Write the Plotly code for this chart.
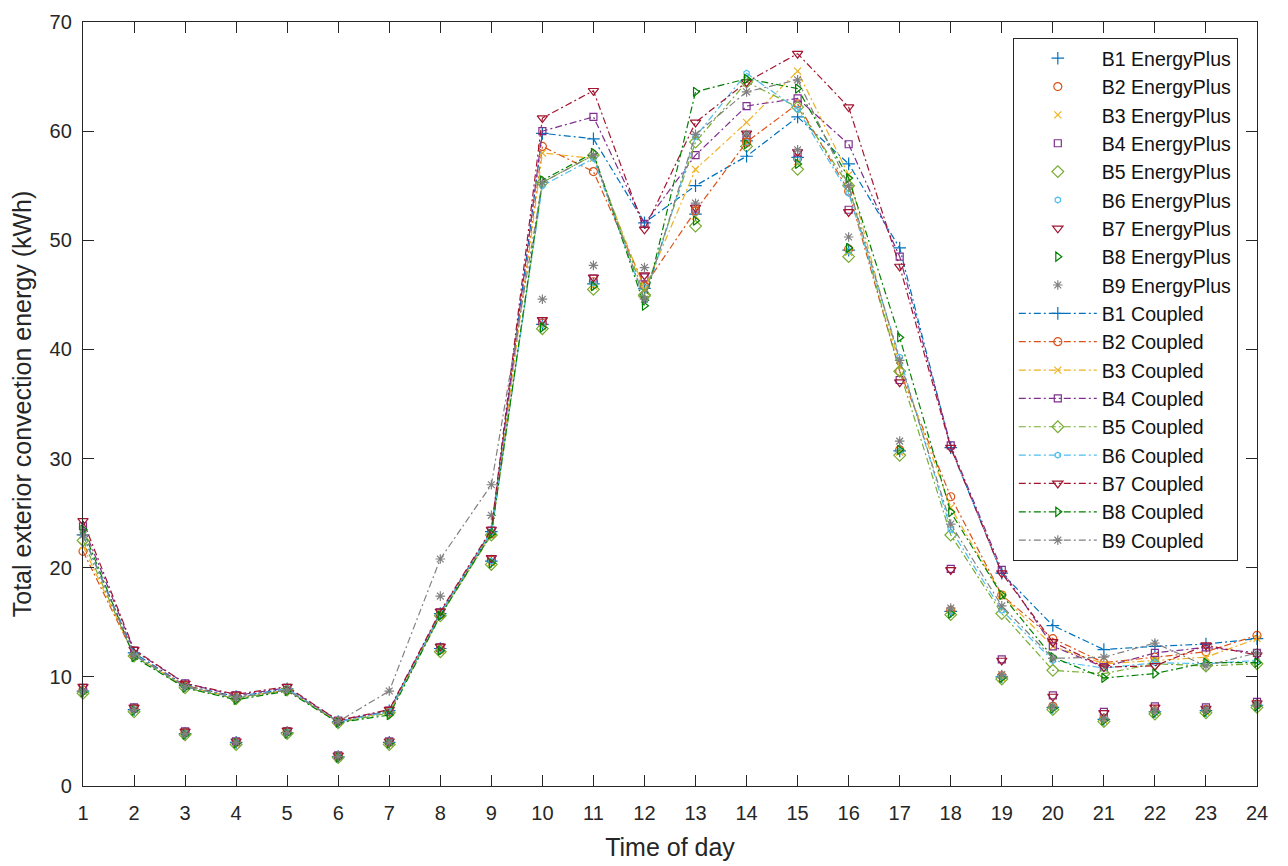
import plotly.graph_objects as go

hours = list(range(1, 25))
buildings = ["B1", "B2", "B3", "B4", "B5", "B6", "B7", "B8", "B9"]
colors = ["#0072BD", "#D95319", "#EDB120", "#7E2F8E", "#77AC30",
          "#4DBEEE", "#A2142F", "#008000", "#808080"]
symbols = ["cross-thin-open", "circle-open", "x-thin-open", "square-open",
           "diamond-open", "hexagon-open", "triangle-down-open",
           "triangle-right-open", "asterisk-open"]
sizes = [9, 8, 7, 7, 9, 6, 9, 8, 8]

# EnergyPlus results (markers only)
ep_b1 = [8.7, 7.0, 4.8, 4.0, 4.9, 2.7, 4.0, 12.6, 20.6, 42.3, 46.0, 45.6, 52.4, 59.1, 57.6, 49.1, 30.7, 16.0, 10.0, 7.2, 6.1, 6.8, 6.9, 7.4]
ep_b2 = [8.8, 7.1, 4.9, 4.0, 5.0, 2.7, 4.0, 12.5, 20.7, 42.4, 46.2, 45.9, 52.7, 59.2, 57.5, 49.2, 30.8, 16.1, 10.1, 7.3, 6.2, 6.9, 7.0, 7.5]
ep_b3 = [8.7, 7.0, 4.8, 3.9, 4.9, 2.6, 3.9, 12.4, 20.5, 42.1, 45.8, 45.4, 52.2, 58.9, 57.2, 48.9, 30.6, 15.9, 9.9, 7.1, 6.0, 6.7, 6.8, 7.3]
ep_b4 = [9.0, 7.2, 5.0, 4.1, 5.0, 2.8, 4.1, 12.7, 20.8, 42.6, 46.5, 46.6, 52.9, 59.6, 58.0, 52.8, 37.2, 19.9, 11.6, 8.3, 6.8, 7.3, 7.2, 7.7]
ep_b5 = [8.5, 6.8, 4.7, 3.8, 4.8, 2.6, 3.8, 12.3, 20.3, 41.9, 45.5, 44.9, 51.3, 58.6, 56.5, 48.5, 30.3, 15.7, 9.8, 7.0, 5.9, 6.6, 6.7, 7.2]
ep_b6 = [8.7, 7.0, 4.8, 4.0, 4.9, 2.7, 4.0, 12.5, 20.6, 42.3, 46.1, 45.7, 52.5, 59.0, 57.4, 49.0, 30.7, 16.0, 10.0, 7.2, 6.1, 6.8, 6.9, 7.4]
ep_b7 = [9.1, 7.2, 5.0, 4.1, 5.1, 2.8, 4.1, 12.8, 20.9, 42.7, 46.6, 46.8, 53.0, 59.8, 58.1, 52.6, 37.0, 19.8, 11.5, 8.2, 6.7, 7.2, 7.1, 7.6]
ep_b8 = [8.6, 6.9, 4.7, 3.9, 4.8, 2.6, 3.9, 12.4, 20.4, 42.0, 45.8, 44.5, 51.8, 58.8, 57.0, 49.3, 30.8, 15.8, 9.9, 7.1, 6.0, 6.7, 6.8, 7.3]
ep_b9 = [8.7, 7.0, 4.8, 4.0, 4.9, 2.7, 4.0, 17.4, 24.8, 44.6, 47.7, 47.5, 53.4, 59.7, 58.3, 50.3, 31.6, 16.3, 10.2, 7.3, 6.2, 6.9, 7.0, 7.5]

# Coupled results (dash-dot lines with markers)
cp_b1 = [23.0, 12.2, 9.2, 8.2, 8.9, 5.9, 6.9, 15.8, 23.3, 59.8, 59.3, 51.6, 55.0, 57.7, 61.3, 57.0, 49.3, 31.0, 19.5, 14.7, 12.5, 12.8, 13.0, 13.5]
cp_b2 = [21.5, 12.0, 9.2, 8.1, 8.8, 5.9, 6.8, 15.7, 23.1, 58.6, 56.3, 45.8, 52.7, 59.0, 62.5, 54.5, 38.0, 26.5, 17.5, 13.5, 11.3, 11.8, 12.3, 13.8]
cp_b3 = [22.0, 12.0, 9.1, 8.1, 8.8, 5.9, 6.8, 15.8, 23.2, 58.0, 57.5, 45.5, 56.5, 60.8, 65.5, 56.0, 38.5, 25.5, 17.5, 12.8, 11.2, 11.5, 11.8, 13.5]
cp_b4 = [23.8, 12.4, 9.4, 8.3, 9.0, 6.0, 6.9, 15.9, 23.4, 60.0, 61.3, 51.5, 57.8, 62.3, 63.0, 58.8, 48.5, 31.2, 19.8, 12.8, 10.9, 12.2, 12.7, 12.2]
cp_b5 = [22.5, 11.9, 9.0, 8.0, 8.8, 5.8, 6.7, 15.6, 23.0, 55.3, 57.8, 45.0, 59.0, 64.5, 62.2, 55.0, 38.0, 23.0, 15.8, 10.6, 10.3, 11.2, 11.0, 11.2]
cp_b6 = [23.0, 12.0, 9.1, 8.1, 8.9, 5.9, 6.8, 15.8, 23.3, 55.0, 57.5, 44.5, 59.5, 65.3, 62.0, 54.3, 39.3, 23.5, 16.1, 11.5, 10.8, 11.3, 11.2, 11.5]
cp_b7 = [24.3, 12.5, 9.4, 8.4, 9.1, 6.0, 7.0, 16.0, 23.5, 61.2, 63.7, 51.0, 60.8, 64.5, 67.1, 62.2, 47.6, 31.0, 19.5, 13.2, 10.9, 11.0, 12.9, 12.0]
cp_b8 = [23.5, 11.8, 9.0, 7.9, 8.7, 5.8, 6.5, 15.6, 23.1, 55.5, 58.0, 44.0, 63.6, 64.8, 63.9, 55.7, 41.1, 25.1, 17.5, 11.8, 9.9, 10.3, 11.3, 11.3]
cp_b9 = [23.0, 12.0, 9.1, 8.1, 8.8, 5.9, 8.7, 20.8, 27.6, 55.3, 57.8, 44.6, 59.7, 63.6, 64.7, 55.0, 39.0, 24.0, 16.5, 11.7, 11.8, 13.1, 11.0, 12.2]

ep_series = [ep_b1, ep_b2, ep_b3, ep_b4, ep_b5, ep_b6, ep_b7, ep_b8, ep_b9]
cp_series = [cp_b1, cp_b2, cp_b3, cp_b4, cp_b5, cp_b6, cp_b7, cp_b8, cp_b9]

axis_color = "#262626"
font_family = "Liberation Sans, Arial, sans-serif"

fig = go.Figure()

for i, b in enumerate(buildings):
    name = f"{b} EnergyPlus"
    fig.add_trace(go.Scatter(
        x=hours, y=ep_series[i], mode="markers", name=name,
        legendgroup=name, cliponaxis=False,
        marker=dict(symbol=symbols[i], size=sizes[i], color=colors[i],
                    line=dict(color=colors[i], width=1.2)),
    ))

for i, b in enumerate(buildings):
    name = f"{b} Coupled"
    fig.add_trace(go.Scatter(
        x=hours, y=cp_series[i], mode="lines+markers", name=name,
        legendgroup=name, cliponaxis=False,
        line=dict(color=colors[i], width=1.2, dash="7px,3px,2px,3px"),
        marker=dict(symbol=symbols[i], size=sizes[i], color=colors[i],
                    line=dict(color=colors[i], width=1.2)),
    ))

fig.update_layout(
    width=1280, height=858,
    margin=dict(l=75, r=31, t=14, b=80),
    paper_bgcolor="white", plot_bgcolor="white",
    font=dict(family=font_family, size=20, color=axis_color),
    showlegend=True,
    legend=dict(
        x=0.792, y=0.979, xanchor="left", yanchor="top",
        bgcolor="white", bordercolor=axis_color, borderwidth=1,
        font=dict(family=font_family, size=19.5, color="#111111"),
        itemwidth=78, traceorder="grouped", tracegroupgap=0,
    ),
    xaxis=dict(
        range=[1, 24], tickvals=hours, ticktext=[str(h) for h in hours],
        showline=True, linecolor=axis_color, linewidth=1.3, mirror="ticks",
        ticks="inside", ticklen=11, tickwidth=1.2, tickcolor=axis_color,
        showgrid=False, zeroline=False, ticklabelstandoff=9,
        title=dict(text="Time of day", font=dict(size=25), standoff=15),
        automargin=False,
    ),
    yaxis=dict(
        range=[0, 70], tickvals=[0, 10, 20, 30, 40, 50, 60, 70],
        showline=True, linecolor=axis_color, linewidth=1.3, mirror="ticks",
        ticks="inside", ticklen=11, tickwidth=1.2, tickcolor=axis_color,
        showgrid=False, zeroline=False, ticklabelstandoff=6,
        title=dict(text="Total exterior convection energy (kWh)", font=dict(size=25), standoff=12),
        automargin=False,
    ),
)

fig.write_html("out.html")
